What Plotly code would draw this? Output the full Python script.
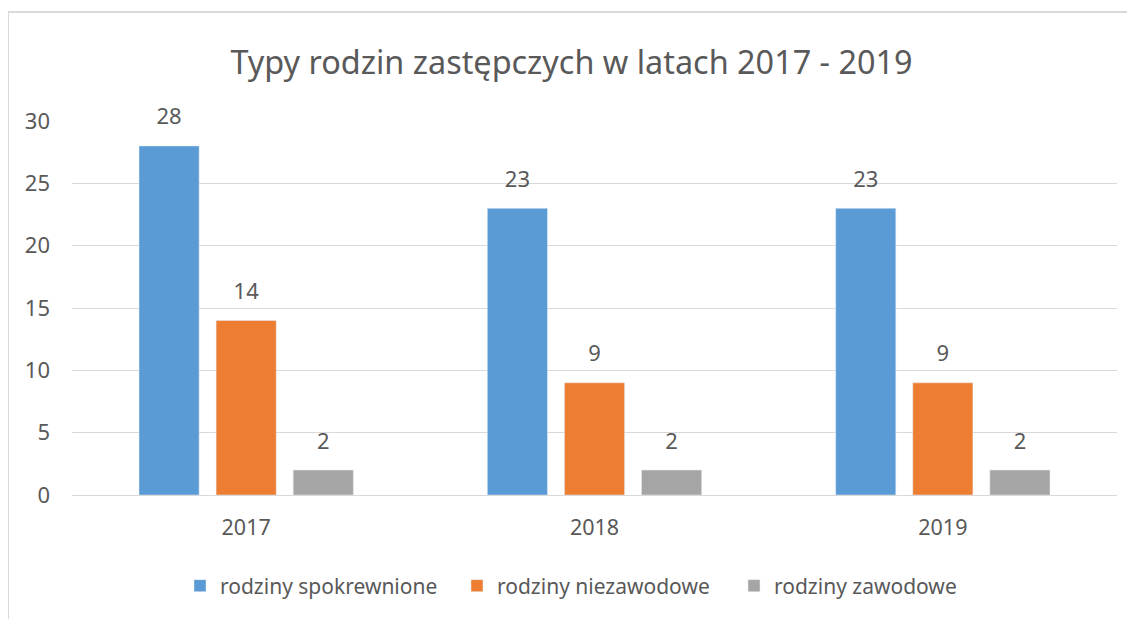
import plotly.graph_objects as go

years = ["2017", "2018", "2019"]
series_names = ["rodziny spokrewnione", "rodziny niezawodowe", "rodziny zawodowe"]
spokrewnione = [28, 23, 23]
niezawodowe = [14, 9, 9]
zawodowe = [2, 2, 2]
series_values = [spokrewnione, niezawodowe, zawodowe]
colors = ["#5B9BD5", "#ED7D31", "#A5A5A5"]
y_ticks = [0, 5, 10, 15, 20, 25, 30]

FONT = "Noto Sans"
TEXT = "#595959"

fig = go.Figure()
for i, (name, vals, col) in enumerate(zip(series_names, series_values, colors)):
    fig.add_trace(go.Bar(
        x=years, y=vals, name=name, marker_color=col,
        offsetgroup=str(i), hoverinfo="x+y+name",
    ))
for i, (name, vals) in enumerate(zip(series_names, series_values)):
    fig.add_trace(go.Scatter(
        x=years, y=vals, mode="markers+text", text=[str(v) for v in vals],
        textposition="top center", showlegend=False, offsetgroup=str(i),
        marker=dict(size=24, opacity=0), hoverinfo="skip",
        textfont=dict(family=FONT, size=22, color=TEXT),
        cliponaxis=False,
    ))

# page body has an 8px margin; figure coordinates are offset accordingly
OFF = 8
W, H = 1135 - OFF, 619 - OFF
L, R, T, B = 72 - OFF, 18, 121 - OFF, 124
pw, ph = W - L - R, H - T - B

def px_x(x):
    return (x - OFF - L) / pw

def px_y(y):
    return (H - B - (y - OFF)) / ph

fig.update_layout(
    width=W, height=H,
    margin=dict(l=L, r=R, t=T, b=B, autoexpand=False),
    paper_bgcolor="white", plot_bgcolor="white",
    barmode="group", bargap=0.336, bargroupgap=0.22,
    scattermode="group", scattergap=0.336,
    title=dict(text="Typy rodzin zastępczych w latach 2017 - 2019",
               x=0.5, xanchor="center", y=1 - (63 - OFF) / H, yanchor="middle",
               font=dict(family=FONT, size=32.4, color=TEXT)),
    font=dict(family=FONT, color=TEXT),
    xaxis=dict(type="category", showgrid=False, showline=False, zeroline=False,
               tickfont=dict(family=FONT, size=21.5, color=TEXT),
               ticklabelstandoff=17),
    yaxis=dict(range=[0, 30], tickvals=y_ticks, showgrid=True, gridcolor="#D9D9D9",
               gridwidth=1, zeroline=True, zerolinecolor="#D9D9D9", zerolinewidth=1,
               showline=False, tickfont=dict(family=FONT, size=22, color=TEXT),
               ticklabelstandoff=21),
    legend=dict(orientation="h", x=px_x(180), xanchor="left", y=px_y(586), yanchor="middle",
                font=dict(family=FONT, size=21, color=TEXT), itemwidth=30,
                traceorder="normal", entrywidth=232),
    showlegend=True,
    shapes=[
        dict(type="line", xref="paper", yref="paper", x0=px_x(8), x1=px_x(1140),
             y0=px_y(12), y1=px_y(12), line=dict(color="#D9D9D9", width=2)),
        dict(type="line", xref="paper", yref="paper", x0=px_x(8), x1=px_x(8),
             y0=px_y(12), y1=px_y(625), line=dict(color="#D9D9D9", width=2)),
    ],
)

fig.write_html("out.html")
